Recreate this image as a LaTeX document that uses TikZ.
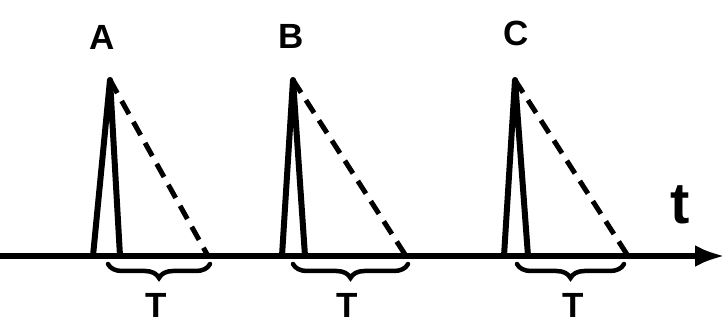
\documentclass[tikz,border=0pt]{standalone}
\usepackage{fontspec}
\setmainfont{Liberation Sans}
\usetikzlibrary{arrows.meta,decorations.pathreplacing}

\begin{document}
\begin{tikzpicture}[
  x=1pt, y=-1pt,
  every node/.style={font=\bfseries\fontsize{35}{35}\selectfont, inner sep=0pt},
  axis/.style={line width=6.5pt, -{Latex[length=30pt,width=22pt]}},
  pulse/.style={line width=6pt, line join=round, line cap=round},
  fade/.style={line width=5pt, dash pattern=on 15pt off 9pt},
  span/.style={line width=4.5pt, line cap=round, decorate, decoration={brace, mirror, amplitude=14pt}},
]
  \useasboundingbox (0,0) rectangle (725,328);
  % time axis
  \coordinate (o) at (0,256);
  \coordinate (e) at (725,256);
  \draw[axis] (o) -- (e);
  \node[font=\bfseries\fontsize{58}{58}\selectfont] (t) at (680,205) {t};
  % pulse A
  \coordinate (a0) at (93,256); \coordinate (ap) at (110,80);
  \coordinate (a1) at (120,256); \coordinate (ae) at (208,256);
  \draw[pulse] (a0) -- (ap) -- (a1);
  \draw[fade] (ap) -- (ae);
  \node (la) at (102,37) {A};
  \draw[span] ([xshift=-12pt,yshift=-8pt]a1) -- ([xshift=2pt,yshift=-8pt]ae);
  \node (ta) at (156,305) {T};
  % pulse B
  \coordinate (b0) at (282,256); \coordinate (bp) at (293,80);
  \coordinate (b1) at (305,256); \coordinate (be) at (406,256);
  \draw[pulse] (b0) -- (bp) -- (b1);
  \draw[fade] (bp) -- (be);
  \node (lb) at (291,36) {B};
  \draw[span] ([xshift=-12pt,yshift=-8pt]b1) -- ([xshift=2pt,yshift=-8pt]be);
  \node (tb) at (347,305) {T};
  % pulse C
  \coordinate (c0) at (504,256); \coordinate (cp) at (515,80);
  \coordinate (c1) at (528,256); \coordinate (ce) at (628,256);
  \draw[pulse] (c0) -- (cp) -- (c1);
  \draw[fade] (cp) -- (ce);
  \node (lc) at (516,33) {C};
  \draw[span] ([xshift=-11pt,yshift=-8pt]c1) -- ([xshift=-4pt,yshift=-8pt]ce);
  \node (tc) at (573,305) {T};
\end{tikzpicture}
\end{document}
